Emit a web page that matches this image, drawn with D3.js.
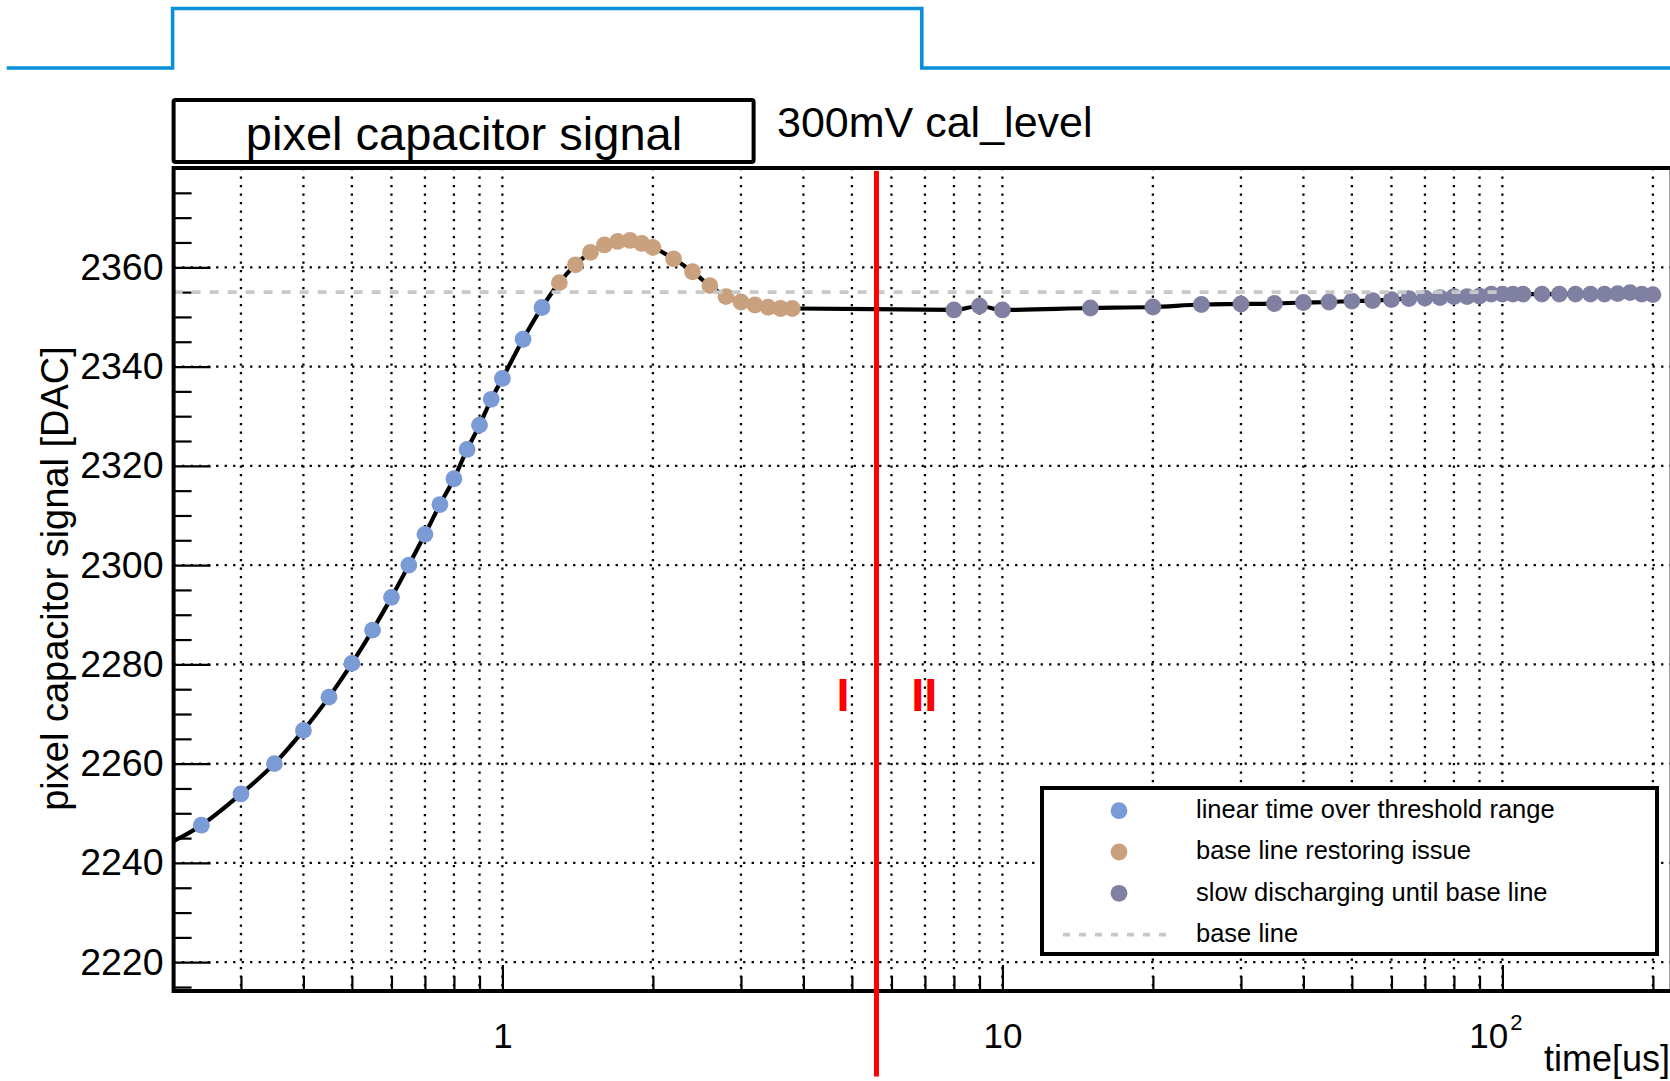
<!DOCTYPE html>
<html><head><meta charset="utf-8">
<script src="https://cdn.jsdelivr.net/npm/d3@7"></script>
<style>
html,body{margin:0;padding:0;background:#fff;}
svg{display:block;}
text{font-family:"Liberation Sans",Arial,Helvetica,sans-serif;fill:#000;}
</style></head><body>
<svg id="chart" width="1670" height="1081"></svg>
<script>
// ---------------- data ----------------
const linearT = [0.2, 0.25, 0.3, 0.35, 0.4, 0.45, 0.5, 0.55, 0.6, 0.65, 0.7, 0.75, 0.8, 0.85, 0.9, 0.95, 1.0, 1.1, 1.2];
const linearV = [2242.4, 2247.6, 2253.9, 2260.0, 2266.7, 2273.4, 2280.2, 2286.9, 2293.5, 2300.0, 2306.2, 2312.2, 2317.4, 2323.3, 2328.2, 2333.4, 2337.6, 2345.5, 2351.9];
const restoreT = [1.3, 1.4, 1.5, 1.6, 1.7, 1.8, 1.9, 2.0, 2.2, 2.4, 2.6, 2.8, 3.0, 3.2, 3.4, 3.6, 3.8];
const restoreV = [2356.9, 2360.5, 2363.0, 2364.5, 2365.2, 2365.4, 2364.8, 2364.0, 2361.7, 2359.1, 2356.3, 2354.1, 2353.0, 2352.4, 2351.95, 2351.7, 2351.7];
const slowT = [8, 9, 10, 15, 20, 25, 30, 35, 40, 45, 50, 55, 60, 65, 70, 75, 80, 85, 90, 95, 100, 105, 110, 120, 130, 140, 150, 160, 170, 180, 190, 200];
const slowV = [2351.4, 2352.2, 2351.4, 2351.8, 2352.0, 2352.5, 2352.6, 2352.7, 2352.9, 2353.0, 2353.2, 2353.3, 2353.5, 2353.7, 2353.8, 2353.9, 2354.1, 2354.1, 2354.2, 2354.6, 2354.6, 2354.6, 2354.6, 2354.6, 2354.6, 2354.6, 2354.6, 2354.6, 2354.7, 2354.9, 2354.6, 2354.5];
const baselineValue = 2355;
const baselineEndT = 100;
const calLineT = 5.6;
const pulseT = [0.102, 0.219, 0.219, 6.9, 6.9, 240];
const pulseLevel = [0, 0, 1, 1, 0, 0];
const regionLabels = ["I", "II"];
const regionT = [4.8, 6.98];
const regionV = [2270.6, 2270.6];
const yMajorTicks = [2220, 2240, 2260, 2280, 2300, 2320, 2340, 2360];
const yMinorTicks = [2215, 2225, 2230, 2235, 2245, 2250, 2255, 2265, 2270, 2275, 2285, 2290, 2295, 2305, 2310, 2315, 2325, 2330, 2335, 2345, 2350, 2355, 2365, 2370, 2375];
const xMajorTicks = [1, 10, 100];
const xTickLabels = ["1", "10", "10^2"];
const xMinorTicks = [0.3, 0.4, 0.5, 0.6, 0.7, 0.8, 0.9, 2, 3, 4, 5, 6, 7, 8, 9, 20, 30, 40, 50, 60, 70, 80, 90, 200];
const seriesNames = ["linear time over threshold range", "base line restoring issue", "slow discharging until base line", "base line"];
const seriesColors = ["#7b9bd7", "#c9a17e", "#8080a2", "#c8c8c8"];
const titleText = "pixel capacitor signal";
const subtitleText = "300mV cal_level";
const yTitle = "pixel capacitor signal [DAC]";
const xTitle = "time[us]";

// ---------------- layout ----------------
const svg = d3.select("#chart");
const pL = 173.6, pT = 168, pB = 991, decade = 500;
const xDomain = [0.22, 218];
const x = d3.scaleLog().domain(xDomain).range([pL, pL + decade * Math.log10(xDomain[1] / xDomain[0])]);
const y = d3.scaleLinear().domain([2214.2, 2380]).range([pB, pT]);
const pR = x.range()[1];
const yPulse = d3.scaleLinear().domain([0, 1]).range([68, 8.5]);

svg.append("defs").append("clipPath").attr("id", "plotclip")
  .append("rect").attr("x", pL).attr("y", pT).attr("width", pR - pL).attr("height", pB - pT);

// pulse waveform
const pulse = pulseT.map((t, i) => [x(t), yPulse(pulseLevel[i])]);
svg.append("path").attr("d", d3.line()(pulse))
  .attr("fill", "none").attr("stroke", "#0b8fd9").attr("stroke-width", 3.6);

// title box
svg.append("rect").attr("x", 173.6).attr("y", 100).attr("width", 580).attr("height", 62).attr("rx", 2)
  .attr("fill", "#fff").attr("stroke", "#000").attr("stroke-width", 4);
svg.append("text").attr("x", 464).attr("y", 150).attr("text-anchor", "middle")
  .attr("font-size", 47).text(titleText);
svg.append("text").attr("x", 777).attr("y", 137).attr("font-size", 43).text(subtitleText);

// grid
const grid = svg.append("g").attr("stroke", "#000").attr("stroke-width", 2.3).attr("stroke-dasharray", "2.3 6.2");
xMajorTicks.concat(xMinorTicks).forEach(t => {
  grid.append("line").attr("x1", x(t)).attr("x2", x(t)).attr("y1", pT).attr("y2", pB);
});
yMajorTicks.forEach(v => {
  grid.append("line").attr("x1", pL).attr("x2", pR).attr("y1", y(v)).attr("y2", y(v));
});

// axes (ticks inward)
const yAxisMajor = svg.append("g").attr("transform", `translate(${pL},0)`)
  .call(d3.axisLeft(y).tickValues(yMajorTicks).tickSize(-37).tickPadding(10).tickFormat(d3.format("d")));
yAxisMajor.select(".domain").remove();
yAxisMajor.selectAll("line").attr("stroke", "#000").attr("stroke-width", 2.2);
yAxisMajor.selectAll("text").attr("font-size", 37.5).attr("font-family", "Liberation Sans, Arial, sans-serif").attr("fill", "#000");

const yAxisMinor = svg.append("g").attr("transform", `translate(${pL},0)`)
  .call(d3.axisLeft(y).tickValues(yMinorTicks).tickSize(-18).tickFormat(""));
yAxisMinor.select(".domain").remove();
yAxisMinor.selectAll("line").attr("stroke", "#000").attr("stroke-width", 2.2);

const xAxisMajor = svg.append("g").attr("transform", `translate(0,${pB})`)
  .call(d3.axisBottom(x).tickValues(xMajorTicks).tickSize(-26).tickPadding(32)
    .tickFormat((d, i) => xTickLabels[i].split("^")[0]));
xAxisMajor.select(".domain").remove();
xAxisMajor.selectAll("line").attr("stroke", "#000").attr("stroke-width", 2.2);
xAxisMajor.selectAll("text").attr("font-size", 35).attr("font-family", "Liberation Sans, Arial, sans-serif").attr("fill", "#000")
  .each(function(d, i) {
    const parts = xTickLabels[i].split("^");
    if (parts.length > 1) {
      d3.select(this).attr("dx", "-0.2em");
      d3.select(this).append("tspan").attr("font-size", 22).attr("dx", "0.1em").attr("dy", "-0.8em").text(parts[1]);
    }
  });

const xAxisMinor = svg.append("g").attr("transform", `translate(0,${pB})`)
  .call(d3.axisBottom(x).tickValues(xMinorTicks).tickSize(-15).tickFormat(""));
xAxisMinor.select(".domain").remove();
xAxisMinor.selectAll("line").attr("stroke", "#000").attr("stroke-width", 2.2);

// data line + markers
const all = [];
linearT.forEach((t, i) => all.push({t, v: linearV[i]}));
restoreT.forEach((t, i) => all.push({t, v: restoreV[i]}));
slowT.forEach((t, i) => all.push({t, v: slowV[i]}));
const plot = svg.append("g").attr("clip-path", "url(#plotclip)");
plot.append("path").datum(all)
  .attr("d", d3.line().x(d => x(d.t)).y(d => y(d.v)).curve(d3.curveMonotoneX))
  .attr("fill", "none").attr("stroke", "#000").attr("stroke-width", 4.2);
[[linearT, linearV], [restoreT, restoreV], [slowT, slowV]].forEach(([ts, vs], k) => {
  plot.append("g").selectAll("circle").data(ts).join("circle")
    .attr("cx", t => x(t)).attr("cy", (t, i) => y(vs[i])).attr("r", 8.4)
    .attr("fill", seriesColors[k]);
});
// base line
plot.append("line").attr("x1", x(xDomain[0])).attr("x2", x(baselineEndT))
  .attr("y1", y(baselineValue)).attr("y2", y(baselineValue))
  .attr("stroke", seriesColors[3]).attr("stroke-width", 3.6).attr("stroke-dasharray", "9 9");

// frame
svg.append("rect").attr("x", pL).attr("y", pT).attr("width", pR - pL).attr("height", pB - pT)
  .attr("fill", "none").attr("stroke", "#000").attr("stroke-width", 4);

// legend
const lg = svg.append("g");
lg.append("rect").attr("x", 1042).attr("y", 788).attr("width", 615).attr("height", 166)
  .attr("fill", "#fff").attr("stroke", "#000").attr("stroke-width", 4);
seriesNames.forEach((name, i) => {
  const cy = 810.7 + i * 41.3;
  if (i < 3) {
    lg.append("circle").attr("cx", 1119).attr("cy", cy).attr("r", 8.4).attr("fill", seriesColors[i]);
  } else {
    lg.append("line").attr("x1", 1063).attr("x2", 1167).attr("y1", cy).attr("y2", cy)
      .attr("stroke", seriesColors[3]).attr("stroke-width", 3.6).attr("stroke-dasharray", "7 9");
  }
  lg.append("text").attr("x", 1196).attr("y", cy + 7.3).attr("font-size", 25.5).text(name);
});

// calibration red line + region markers
svg.append("line").attr("x1", x(calLineT)).attr("x2", x(calLineT)).attr("y1", pT + 3).attr("y2", 1076.5)
  .attr("stroke", "#ff0000").attr("stroke-width", 5);
regionLabels.forEach((lab, i) => {
  svg.append("text").attr("x", x(regionT[i])).attr("y", y(regionV[i])).attr("text-anchor", "middle")
    .attr("font-size", 47).attr("font-weight", "bold").style("fill", "#ff0000").text(lab);
});

// axis titles
svg.append("text").attr("transform", "translate(68,578.5) rotate(-90)").attr("text-anchor", "middle")
  .attr("font-size", 38).text(yTitle);
svg.append("text").attr("x", 1670).attr("y", 1071).attr("text-anchor", "end").attr("font-size", 36).text(xTitle);
</script>
</body></html>
